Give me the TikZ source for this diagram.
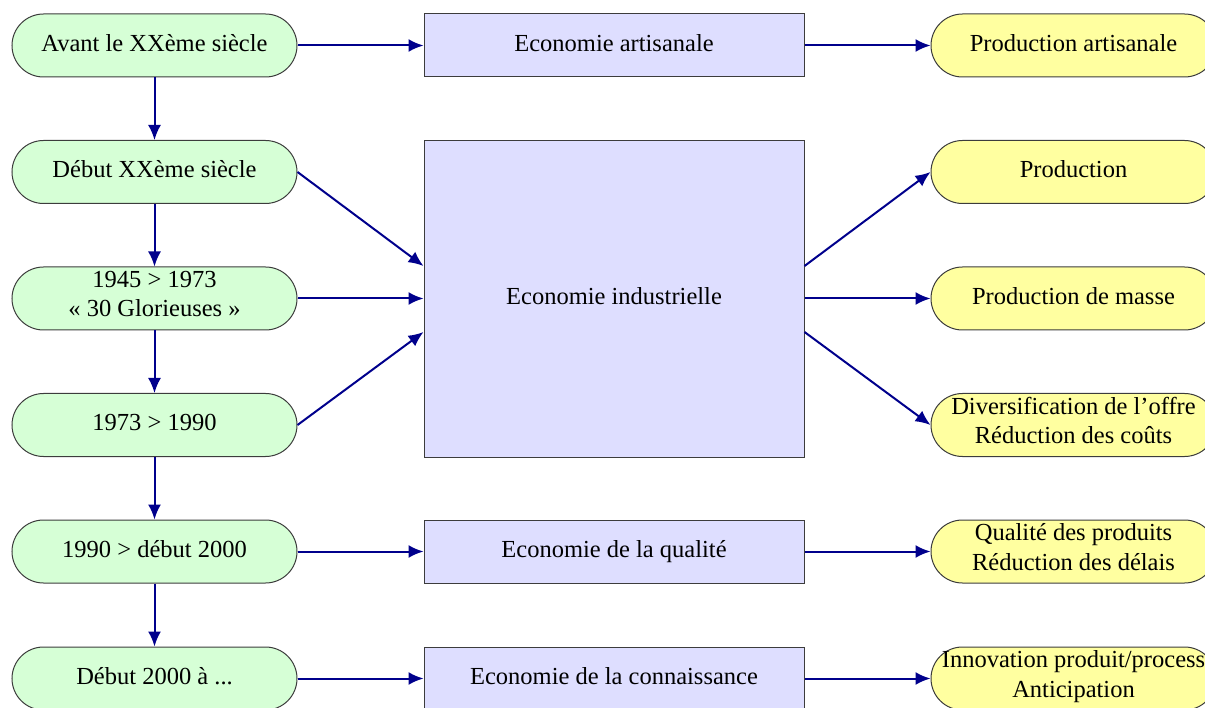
\documentclass[tikz,border=0pt]{standalone}
\usepackage{fontspec}
\setmainfont{Liberation Serif}
\usetikzlibrary{arrows.meta}
\definecolor{gfill}{RGB}{214,255,214}
\definecolor{bfill}{RGB}{222,222,255}
\definecolor{yfill}{RGB}{255,255,160}
\definecolor{navy}{RGB}{0,0,140}
\definecolor{edge}{RGB}{60,60,60}
\tikzset{
  base/.style={draw=edge, line width=1pt, align=center, inner sep=0pt,
    font=\fontsize{24.5}{29.5}\selectfont,
    execute at begin node=\strut, execute at end node=\strut},
  era/.style={base, fill=gfill, minimum width=285pt, minimum height=63pt, rounded corners=31.5pt},
  eco/.style={base, fill=bfill, minimum width=380pt, minimum height=63pt},
  prod/.style={base, fill=yfill, minimum width=285pt, minimum height=63pt, rounded corners=31.5pt},
  conn/.style={draw=navy, line width=2pt, -{Latex[length=15pt,width=13pt]}}
}
\begin{document}
\begin{tikzpicture}[x=1pt,y=-1pt]
\useasboundingbox (0,0) rectangle (1205,708);
\clip (0,0) rectangle (1205,708);
% eras
\node[era] (e1) at (154.5,45.5) {Avant le XXème siècle};
\node[era] (e2) at (154.5,172) {Début XXème siècle};
\node[era] (e3) at (154.5,298.5) {1945 > 1973\\«~30 Glorieuses~»};
\node[era] (e4) at (154.5,425) {1973 > 1990};
\node[era] (e5) at (154.5,551.5) {1990 > début 2000};
\node[era] (e6) at (154.5,678.5) {Début 2000 à ...};
% economies
\node[eco] (c1) at (614,45.5) {Economie artisanale};
\node[eco, minimum height=316pt] (c2) at (614,299) {Economie industrielle};
\node[eco] (c3) at (614,552) {Economie de la qualité};
\node[eco] (c4) at (614,678.5) {Economie de la connaissance};
% productions
\node[prod] (p1) at (1073.5,45.5) {Production artisanale};
\node[prod] (p2) at (1073.5,172) {Production};
\node[prod] (p3) at (1073.5,298.5) {Production de masse};
\node[prod] (p4) at (1073.5,425) {Diversification de l’offre\\Réduction des coûts};
\node[prod] (p5) at (1073.5,551.5) {Qualité des produits\\Réduction des délais};
\node[prod] (p6) at (1073.5,678.5) {Innovation produit/process\\Anticipation};
% vertical
\draw[conn] (e1.south) -- (e2.north);
\draw[conn] (e2.south) -- (e3.north);
\draw[conn] (e3.south) -- (e4.north);
\draw[conn] (e4.south) -- (e5.north);
\draw[conn] (e5.south) -- (e6.north);
% eras to economies
\draw[conn] (e1.east) -- (c1.west);
\draw[conn] (e2.east) -- ([yshift=33pt]c2.west);
\draw[conn] (e3.east) -- (e3.east -| c2.west);
\draw[conn] (e4.east) -- ([yshift=-33pt]c2.west);
\draw[conn] (e5.east) -- (e5.east -| c3.west);
\draw[conn] (e6.east) -- (c4.west);
% economies to productions
\draw[conn] (c1.east) -- (p1.west);
\draw[conn] ([yshift=33pt]c2.east) -- (p2.west);
\draw[conn] (p3.west -| c2.east) -- (p3.west);
\draw[conn] ([yshift=-33pt]c2.east) -- (p4.west);
\draw[conn] (p5.west -| c3.east) -- (p5.west);
\draw[conn] (c4.east) -- (p6.west);
\end{tikzpicture}
\end{document}
